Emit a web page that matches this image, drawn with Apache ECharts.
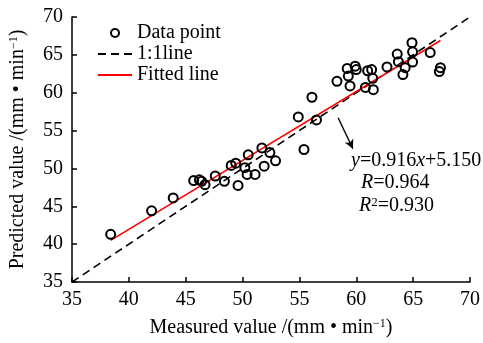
<!DOCTYPE html>
<html>
<head>
<meta charset="utf-8">
<script src="https://cdn.jsdelivr.net/npm/echarts@6/dist/echarts.min.js"></script>
<style>
  html, body { margin: 0; padding: 0; background: #fff; }
  #chart { width: 483px; height: 343px; }
</style>
</head>
<body>
<div id="chart"></div>
<script>
// measured vs predicted (mm/min)
const measured = [
  38.4, 42.0, 43.9, 45.7, 46.2, 46.4, 46.7, 47.6, 48.4, 49.0,
  49.4, 49.6, 50.2, 50.4, 50.5, 51.1, 51.7, 51.9, 52.4, 52.9,
  54.9, 55.4, 56.1, 56.5, 58.3, 59.2, 59.3, 59.45, 59.9, 60.0,
  60.8, 61.0, 61.35, 61.45, 61.5, 62.7, 63.6, 63.7, 64.1, 64.3,
  64.9, 64.95, 64.95, 66.5, 67.4, 67.3
];
const predicted = [
  41.3, 44.4, 46.1, 48.4, 48.5, 48.3, 47.85, 49.0, 48.3, 50.4,
  50.7, 47.75, 50.1, 49.2, 51.8, 49.2, 52.7, 50.3, 52.1, 51.0,
  56.8, 52.5, 59.4, 56.4, 61.5, 63.2, 62.2, 60.9, 63.5, 63.05,
  60.7, 62.9, 63.05, 61.9, 60.4, 63.4, 65.1, 64.1, 62.4, 63.3,
  66.6, 65.4, 64.05, 65.3, 63.3, 62.8
];
const oneToOne = [[35, 35], [70, 70]];
const fittedLine = [[38.4, 40.5], [67.4, 66.9]];
const arrowFrom = [58.4, 56.7];
const arrowTo = [59.7, 52.6];
const axisTicks = { min: 35, max: 70, interval: 5 };

const FONT = '"Liberation Serif", "Times New Roman", serif';
const FS = 20;

const chart = echarts.init(document.getElementById('chart'));

const supRich = {
  sup: { fontSize: 12, fontFamily: FONT, color: '#000', verticalAlign: 'top', lineHeight: 12, padding: [0, 0, 8, 0] }
};
const italic = { fontStyle: 'italic', fontFamily: FONT, fontSize: FS };

const option = {
  animation: false,
  backgroundColor: '#fff',
  textStyle: { fontFamily: FONT, color: '#000' },
  grid: { left: 72, right: 13, top: 17, bottom: 59 },
  legend: {
    orient: 'vertical',
    left: 97,
    top: 23,
    padding: 0,
    itemGap: 1,
    itemWidth: 34,
    itemHeight: 8,
    textStyle: { fontFamily: FONT, fontSize: FS, color: '#000' },
    data: [
      { name: 'Data point' },
      { name: '1:1line', itemStyle: { opacity: 0 } },
      { name: 'Fitted line', itemStyle: { opacity: 0 } }
    ]
  },
  xAxis: {
    type: 'value',
    min: axisTicks.min, max: axisTicks.max, interval: axisTicks.interval,
    name: 'Measured value /(mm • min{sup|−1})',
    nameLocation: 'middle',
    nameGap: 36,
    nameTextStyle: { fontFamily: FONT, fontSize: FS, color: '#000', rich: supRich },
    axisLine: { lineStyle: { color: '#000', width: 1.5 } },
    axisTick: { inside: true, length: 5, lineStyle: { color: '#000', width: 1.5 } },
    axisLabel: { fontFamily: FONT, fontSize: FS, color: '#000', margin: 8 },
    splitLine: { show: false }
  },
  yAxis: {
    type: 'value',
    min: axisTicks.min, max: axisTicks.max, interval: axisTicks.interval,
    name: 'Predicted value /(mm • min{sup|−1})',
    nameLocation: 'middle',
    nameGap: 44,
    nameTextStyle: { fontFamily: FONT, fontSize: FS, color: '#000', rich: supRich },
    axisLine: { lineStyle: { color: '#000', width: 1.5 } },
    axisTick: { inside: true, length: 5, lineStyle: { color: '#000', width: 1.5 } },
    axisLabel: { fontFamily: FONT, fontSize: FS, color: '#000', margin: 9 },
    splitLine: { show: false }
  },
  series: [
    {
      name: 'Data point',
      type: 'scatter',
      symbol: 'circle',
      symbolSize: 9,
      itemStyle: { color: 'rgba(255,255,255,0)', borderColor: '#000', borderWidth: 2, opacity: 1 },
      data: measured.map((m, i) => [m, predicted[i]]),
      z: 3
    },
    {
      name: '1:1line',
      type: 'line',
      symbol: 'none',
      itemStyle: { color: '#000' },
      lineStyle: { color: '#000', width: 1.6, type: [8, 5] },
      data: oneToOne,
      z: 1
    },
    {
      name: 'Fitted line',
      type: 'line',
      symbol: 'none',
      itemStyle: { color: '#ff0000' },
      lineStyle: { color: '#ff0000', width: 1.6 },
      data: fittedLine,
      z: 2,
      markLine: {
        silent: true,
        symbol: ['none', 'arrow'],
        symbolSize: [7, 9],
        lineStyle: { color: '#000', width: 1.4, type: 'solid' },
        label: { show: false },
        data: [[{ coord: arrowFrom }, { coord: arrowTo }]]
      }
    }
  ],
  graphic: [
    {
      type: 'text', left: 351, top: 151,
      style: {
        text: '{i|y}=0.916{i|x}+5.150',
        font: FS + 'px ' + FONT, fill: '#000',
        rich: { i: italic }
      }
    },
    {
      type: 'text', left: 361, top: 173,
      style: {
        text: '{i|R}=0.964',
        font: FS + 'px ' + FONT, fill: '#000',
        rich: { i: italic }
      }
    },
    {
      type: 'text', left: 359, top: 196,
      style: {
        text: '{i|R}{sup|2}=0.930',
        font: FS + 'px ' + FONT, fill: '#000',
        rich: {
          i: italic,
          sup: { fontSize: 13, fontFamily: FONT, verticalAlign: 'top', lineHeight: 13, padding: [0, 0, 7, 0] }
        }
      }
    }
  ]
};

chart.setOption(option);
</script>
</body>
</html>
